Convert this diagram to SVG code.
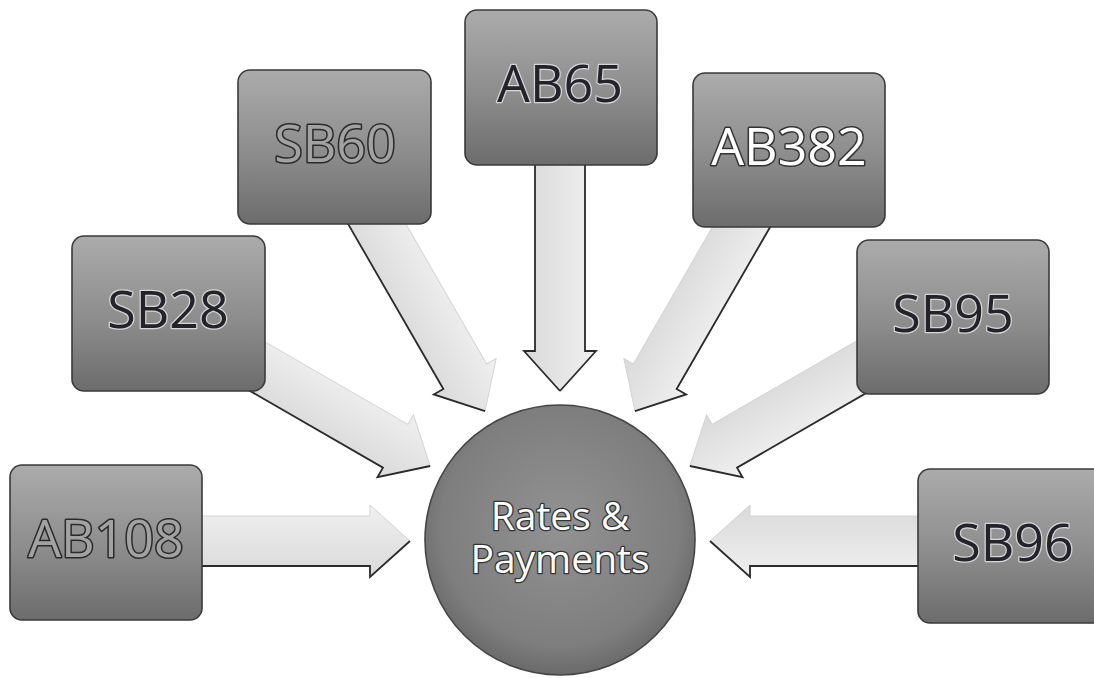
<svg xmlns="http://www.w3.org/2000/svg" width="1094" height="678" viewBox="0 0 1094 678">
  <defs>
    <linearGradient id="boxGrad" x1="0" y1="0" x2="0" y2="1">
      <stop offset="0" stop-color="#ababab"/>
      <stop offset="0.55" stop-color="#8c8c8c"/>
      <stop offset="1" stop-color="#6c6c6c"/>
    </linearGradient>
    <radialGradient id="circGrad" cx="0.5" cy="0.45" r="0.55">
      <stop offset="0" stop-color="#929292"/>
      <stop offset="0.8" stop-color="#7e7e7e"/>
      <stop offset="1" stop-color="#6a6a6a"/>
    </radialGradient>
    <linearGradient id="arrowGrad" x1="0" y1="0" x2="0" y2="1">
      <stop offset="0" stop-color="#f0f0f0"/>
      <stop offset="1" stop-color="#d9d9d9"/>
    </linearGradient>
    <path id="arrowShape" d="M-400,-25 L-190,-25 L-190,-36 L-150,0 L-190,36 L-190,25 L-400,25 Z"/>
  </defs>
  <style>
    .box { fill: url(#boxGrad); stroke: #3a3a3a; stroke-width: 1.6; }
    .hub { fill: url(#circGrad); stroke: #454545; stroke-width: 1.6; }
    .arrow { fill: url(#arrowGrad); stroke: #d4d4d4; stroke-width: 1; }
    .edge { fill: none; stroke: #2b2b2b; stroke-width: 1.8; stroke-linejoin: miter; }
    .lbl { font-family: "Open Sans", "Liberation Sans", sans-serif; font-size: 52px; text-anchor: middle; paint-order: stroke; stroke-linejoin: round; }
    .dark { fill: #23232c; stroke: #d6d6d6; stroke-width: 2.5; }
    .grey { fill: #a2a2a2; stroke: #2a2a2a; stroke-width: 3; }
    .white { fill: #ffffff; stroke: #333333; stroke-width: 3; }
    .hubtxt { font-family: "Open Sans", "Liberation Sans", sans-serif; font-size: 39px; text-anchor: middle; fill: #ffffff; stroke: #333333; stroke-width: 2.6; paint-order: stroke; stroke-linejoin: round; }
  </style>
  <rect width="1094" height="678" fill="#ffffff"/>

  <g id="connectors">
    <g transform="translate(560,541) rotate(0)">
      <use href="#arrowShape" class="arrow"/>
      <path class="edge" d="M-400,25 L-190,25 L-190,36 L-150,0"/>
    </g>
    <g transform="translate(560,541) rotate(30)">
      <use href="#arrowShape" class="arrow"/>
      <path class="edge" d="M-400,25 L-190,25 L-190,36 L-150,0"/>
    </g>
    <g transform="translate(560,541) rotate(60)">
      <use href="#arrowShape" class="arrow"/>
      <path class="edge" d="M-400,25 L-190,25 L-190,36 L-150,0"/>
    </g>
    <g transform="translate(560,541) rotate(90)">
      <use href="#arrowShape" class="arrow"/>
      <path class="edge" d="M-400,25 L-190,25 L-190,36 L-150,0"/>
      <path class="edge" d="M-400,-25 L-190,-25 L-190,-36 L-150,0"/>
    </g>
    <g transform="translate(560,541) rotate(120)">
      <use href="#arrowShape" class="arrow"/>
      <path class="edge" d="M-400,-25 L-190,-25 L-190,-36 L-150,0"/>
    </g>
    <g transform="translate(560,541) rotate(150)">
      <use href="#arrowShape" class="arrow"/>
      <path class="edge" d="M-400,-25 L-190,-25 L-190,-36 L-150,0"/>
    </g>
    <g transform="translate(560,541) rotate(180)">
      <use href="#arrowShape" class="arrow"/>
      <path class="edge" d="M-400,-25 L-190,-25 L-190,-36 L-150,0"/>
    </g>
  </g>

  <g id="node-hub">
    <circle class="hub" cx="560" cy="540" r="135"/>
    <text class="hubtxt" x="560" y="530">Rates &amp;<tspan x="560" dy="43">Payments</tspan></text>
  </g>

  <g id="node-AB108">
    <rect class="box" x="10" y="465" width="192" height="155" rx="12"/>
    <text class="lbl grey" x="106" y="557">AB108</text>
  </g>
  <g id="node-SB28">
    <rect class="box" x="72" y="236" width="193" height="155" rx="12"/>
    <text class="lbl dark" x="168" y="328">SB28</text>
  </g>
  <g id="node-SB60">
    <rect class="box" x="238" y="70" width="193" height="154" rx="12"/>
    <text class="lbl grey" x="335" y="162">SB60</text>
  </g>
  <g id="node-AB65">
    <rect class="box" x="465" y="10" width="192" height="155" rx="12"/>
    <text class="lbl dark" x="560" y="102">AB65</text>
  </g>
  <g id="node-AB382">
    <rect class="box" x="693" y="73" width="192" height="154" rx="12"/>
    <text class="lbl white" x="789" y="165">AB382</text>
  </g>
  <g id="node-SB95">
    <rect class="box" x="857" y="240" width="192" height="154" rx="12"/>
    <text class="lbl dark" x="953" y="332">SB95</text>
  </g>
  <g id="node-SB96">
    <rect class="box" x="918" y="469" width="192" height="154" rx="12"/>
    <text class="lbl dark" x="1013" y="561">SB96</text>
  </g>
</svg>
